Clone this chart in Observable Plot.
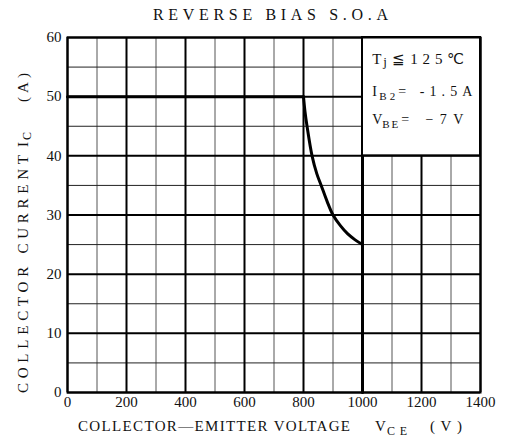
<!DOCTYPE html>
<html><head><meta charset="utf-8">
<script src="https://cdn.jsdelivr.net/npm/d3@7"></script>
<script src="https://cdn.jsdelivr.net/npm/@observablehq/plot@0.6"></script>
<style>body{margin:0;background:#fff}</style>
</head><body><div id="chart"></div>
<script>
const xTicks = [0, 200, 400, 600, 800, 1000, 1200, 1400];
const yTicks = [0, 10, 20, 30, 40, 50, 60];
const xMinor = [100, 300, 500, 700, 900, 1100, 1300];
const yMinor = [5, 15, 25, 35, 45, 55];
const flatV = [0, 800];
const flatI = [50, 50];
const curveV = [800, 805, 812, 829, 845, 860, 880, 900, 925, 950, 975, 1000];
const curveI = [50, 47.5, 45, 40, 37, 35, 32.3, 30, 28.2, 26.8, 25.8, 25];
const dropV = [1000, 1000];
const dropI = [25, 0];
const boxV = [1000, 1400];
const boxI = [40, 60];
const title = "REVERSE BIAS S.O.A";

const FONT = "Liberation Serif";
const pts = (xs, ys) => xs.map((x, i) => ({x, y: ys[i]}));

const plot = Plot.plot({
  width: 505, height: 440,
  marginLeft: 67, marginRight: 25, marginTop: 37, marginBottom: 48,
  x: {domain: [0, 1400], axis: null},
  y: {domain: [0, 60], axis: null},
  style: {fontFamily: FONT, background: "white"},
  marks: [
    Plot.ruleX(xMinor, {stroke: "#555", strokeWidth: 1}),
    Plot.ruleY(yMinor, {stroke: "#222", strokeWidth: 1}),
    Plot.ruleX(xTicks, {stroke: "#000", strokeWidth: 2}),
    Plot.ruleY(yTicks, {stroke: "#000", strokeWidth: 2}),
    Plot.ruleX([1000], {stroke: "#000", strokeWidth: 3}),
    Plot.rect([{}], {x1: boxV[0], x2: boxV[1], y1: boxI[0], y2: boxI[1], fill: "white", stroke: "black", strokeWidth: 2}),
    Plot.frame({stroke: "black", strokeWidth: 2}),
    Plot.line(pts(flatV, flatI), {x: "x", y: "y", stroke: "black", strokeWidth: 3}),
    Plot.line(pts(curveV, curveI), {x: "x", y: "y", stroke: "black", strokeWidth: 3, curve: "catmull-rom"}),
    Plot.line(pts(dropV, dropI), {x: "x", y: "y", stroke: "black", strokeWidth: 3}),
    Plot.axisX(xTicks, {label: null, tickSize: 0, tickPadding: 4, fontSize: 15, fill: "#111", fontFamily: FONT, tickFormat: d => String(d)}),
    Plot.axisY(yTicks, {label: null, tickSize: 0, tickPadding: 6, fontSize: 15, fill: "#111", fontFamily: FONT, tickFormat: d => String(d)})
  ]
});
document.getElementById("chart").appendChild(plot);

const svg = d3.select(plot);
const sx = plot.scale("x"), sy = plot.scale("y");
const g = svg.append("g").attr("font-family", FONT).attr("fill", "#111").attr("text-anchor", "start");

function txt(parent, x, y, s, size, len) {
  const t = parent.append("text").attr("x", x).attr("y", y).attr("font-size", size)
    .attr("text-anchor", "start").text(s);
  if (len) t.attr("textLength", len).attr("lengthAdjust", "spacing");
  return t;
}

// Title
txt(g, 153, 20, title, 16, 235);

// X axis label
txt(g, 78, 431, "COLLECTOR—EMITTER VOLTAGE", 15, 272);
txt(g, 375, 431, "V", 15);
txt(g, 387, 435, "CE", 12, 20);
txt(g, 430, 431, "(V)", 15, 32);

// Y axis label (rotated)
const yl = g.append("g").attr("transform", "translate(28,0) rotate(-90)");
txt(yl, -393, 0, "COLLECTOR CURRENT", 15, 238);
txt(yl, -147, 0, "I", 15);
txt(yl, -140, 3, "C", 12);
txt(yl, -102, 0, "(A)", 15, 29);

// Box annotations
const bx = sx.apply(1035);
const y1 = sy.apply(55.4), y2 = sy.apply(50), y3 = sy.apply(45.3);
txt(g, bx, y1, "T", 15);
txt(g, bx + 11, y1 + 2, "j", 13);
txt(g, bx + 20, y1, "≦125℃", 15, 72);
txt(g, bx, y2, "I", 14);
txt(g, bx + 7, y2 + 4, "B2", 11, 16);
txt(g, bx + 26, y2, "= -1.5A", 14, 74);
txt(g, bx, y3, "V", 14);
txt(g, bx + 10, y3 + 4, "BE", 11, 16);
txt(g, bx + 29, y3, "= −7V", 14, 62);
</script>
</body></html>
